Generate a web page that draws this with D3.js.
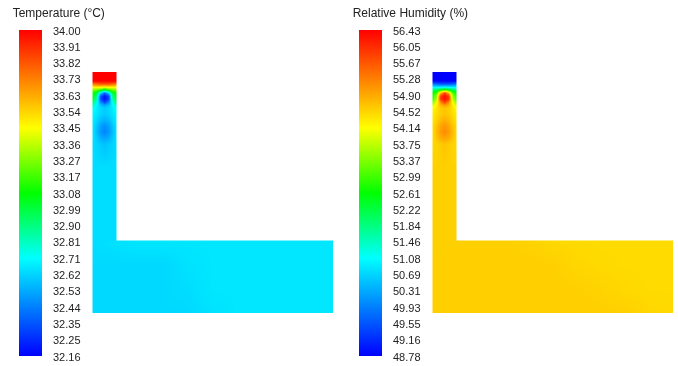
<!DOCTYPE html>
<html><head><meta charset="utf-8">
<script src="https://cdn.jsdelivr.net/npm/d3@7"></script>
<style>
body{margin:0;background:#fff;}
#wrap{position:relative;width:678px;height:366px;overflow:hidden;}
canvas,svg{position:absolute;left:0;top:0;}
text{font-family:"Liberation Sans",Arial,sans-serif;fill:#222;}
</style></head><body><div id="wrap"></div>
<script>
// ---------------- DATA ----------------
const tempTitle = "Temperature (°C)";
const humTitle = "Relative Humidity (%)";
const tempTicks = ["34.00","33.91","33.82","33.73","33.63","33.54","33.45","33.36","33.27","33.17","33.08","32.99","32.90","32.81","32.71","32.62","32.53","32.44","32.35","32.25","32.16"];
const humTicks = ["56.43","56.05","55.67","55.28","54.90","54.52","54.14","53.75","53.37","52.99","52.61","52.22","51.84","51.46","51.08","50.69","50.31","49.93","49.55","49.16","48.78"];
const tempRange = [32.16, 34.00];
const humRange = [48.78, 56.43];

// mesh node coordinates (cm): vertical riser (x 0..1, y 3..10)
const upperX = [0, 0.167, 0.333, 0.5, 0.667, 0.833, 1];
const upperY = [10, 9.875, 9.75, 9.625, 9.5, 9.375, 9.25, 9.125, 9.0, 8.875, 8.75, 8.625, 8.5, 8.25, 8.0, 7.75, 7.5, 7.25, 7.0, 6.0, 3.0];
// horizontal duct (x 0..10, y 0..3)
const lowerX = [0, 1, 2, 3, 4, 5, 6, 7, 8, 9, 10];
const lowerY = [3, 2, 1, 0];

const tempUpper = [
  [34.00,34.00,34.00,34.00,34.00,34.00,34.00],
  [34.00,34.00,34.00,34.00,34.00,34.00,34.00],
  [34.00,34.00,34.00,34.00,34.00,34.00,34.00],
  [34.00,34.00,34.00,34.00,34.00,34.00,34.00],
  [33.74,33.78,33.82,33.82,33.82,33.78,33.74],
  [33.48,33.50,33.50,33.46,33.50,33.50,33.48],
  [33.26,33.23,33.14,33.00,33.14,33.23,33.26],
  [33.12,33.00,32.62,32.38,32.62,33.00,33.12],
  [33.04,32.90,32.34,32.20,32.34,32.90,33.04],
  [33.01,32.84,32.32,32.20,32.32,32.84,33.01],
  [32.93,32.76,32.46,32.30,32.46,32.76,32.93],
  [32.82,32.70,32.58,32.52,32.58,32.70,32.82],
  [32.75,32.68,32.63,32.60,32.63,32.68,32.75],
  [32.69,32.66,32.62,32.60,32.62,32.66,32.69],
  [32.68,32.63,32.57,32.55,32.57,32.63,32.68],
  [32.66,32.59,32.51,32.47,32.51,32.59,32.66],
  [32.66,32.57,32.49,32.45,32.49,32.57,32.66],
  [32.66,32.60,32.54,32.52,32.54,32.60,32.66],
  [32.64,32.62,32.60,32.58,32.60,32.62,32.64],
  [32.64,32.64,32.64,32.64,32.64,32.64,32.64],
  [32.64,32.64,32.64,32.64,32.64,32.64,32.64]
];
const humUpper = [
  [48.78,48.78,48.78,48.78,48.78,48.78,48.78],
  [48.78,48.78,48.78,48.78,48.78,48.78,48.78],
  [48.78,48.78,48.78,48.78,48.78,48.78,48.78],
  [48.78,48.78,48.78,48.78,48.78,48.78,48.78],
  [49.85,49.70,49.55,49.55,49.55,49.70,49.85],
  [50.92,50.85,50.85,50.99,50.85,50.85,50.92],
  [51.99,52.15,52.61,53.14,52.61,52.15,51.99],
  [52.61,53.06,54.82,55.90,54.82,53.06,52.61],
  [52.83,53.52,55.90,56.30,55.90,53.52,52.83],
  [52.99,53.75,55.98,56.30,55.98,53.75,52.99],
  [53.37,54.06,55.20,55.90,55.20,54.06,53.37],
  [53.83,54.29,54.82,55.05,54.82,54.29,53.83],
  [54.14,54.36,54.59,54.67,54.59,54.36,54.14],
  [54.29,54.44,54.59,54.67,54.59,54.44,54.29],
  [54.36,54.52,54.75,54.86,54.75,54.52,54.36],
  [54.44,54.67,54.94,55.09,54.94,54.67,54.44],
  [54.44,54.75,55.02,55.17,55.02,54.75,54.44],
  [54.44,54.67,54.86,54.94,54.86,54.67,54.44],
  [54.48,54.52,54.59,54.67,54.59,54.52,54.48],
  [54.56,54.56,54.56,54.56,54.56,54.56,54.56],
  [54.56,54.56,54.56,54.56,54.56,54.56,54.56]
];
const tempLower = [
  [32.64,32.65,32.66,32.66,32.66,32.66,32.66,32.66,32.66,32.66,32.66],
  [32.63,32.63,32.63,32.63,32.65,32.66,32.66,32.66,32.66,32.66,32.66],
  [32.63,32.63,32.63,32.63,32.64,32.66,32.66,32.66,32.66,32.66,32.66],
  [32.63,32.63,32.63,32.63,32.63,32.65,32.66,32.66,32.66,32.66,32.66]
];
const humLower = [
  [54.56,54.56,54.56,54.56,54.53,54.48,54.46,54.46,54.46,54.46,54.46],
  [54.56,54.57,54.57,54.57,54.57,54.56,54.50,54.47,54.46,54.46,54.46],
  [54.56,54.57,54.57,54.57,54.57,54.57,54.56,54.53,54.48,54.46,54.46],
  [54.56,54.57,54.57,54.57,54.57,54.57,54.57,54.57,54.56,54.50,54.47]
];

// ---------------- LAYOUT ----------------
const W = 678, H = 366;
const panels = [
  {off: 0, title: tempTitle, ticks: tempTicks, range: tempRange, upper: tempUpper, lower: tempLower},
  {off: 340, title: humTitle, ticks: humTicks, range: humRange, upper: humUpper, lower: humLower}
];
const stops = [0, 0.3, 0.5, 0.7, 1];
const stopColors = ["#0000ff", "#00ffff", "#00ff00", "#ffff00", "#ff0000"];

const wrap = d3.select("#wrap");
const canvas = wrap.append("canvas").attr("width", W).attr("height", H).node();
const ctx = canvas.getContext("2d");
const svg = wrap.append("svg").attr("width", W).attr("height", H);
const img = ctx.createImageData(W, H);
for (let i = 0; i < img.data.length; i++) img.data[i] = 255;

function findIdx(arr, v) { // arr ascending or descending
  const n = arr.length;
  const asc = arr[n - 1] > arr[0];
  for (let i = 0; i < n - 1; i++) {
    const b = arr[i + 1];
    if (asc ? (v <= b) : (v >= b)) return i;
  }
  return n - 2;
}
function bilinear(xs, ys, grid, x, y) {
  const i = findIdx(xs, x), j = findIdx(ys, y);
  let tx = (x - xs[i]) / (xs[i + 1] - xs[i]);
  let ty = (y - ys[j]) / (ys[j + 1] - ys[j]);
  tx = Math.max(0, Math.min(1, tx)); ty = Math.max(0, Math.min(1, ty));
  const v00 = grid[j][i], v01 = grid[j][i + 1], v10 = grid[j + 1][i], v11 = grid[j + 1][i + 1];
  return (v00 * (1 - tx) + v01 * tx) * (1 - ty) + (v10 * (1 - tx) + v11 * tx) * ty;
}
function inside(x, y) {
  return (x >= 0 && x <= 1 && y >= 3 && y <= 10) || (x >= 0 && x <= 10 && y >= 0 && y <= 3);
}

panels.forEach(p => {
  const [lo, hi] = p.range;
  const color = d3.scaleLinear()
    .domain(stops.map(s => lo + s * (hi - lo)))
    .range(stopColors)
    .interpolate(d3.interpolateRgb)
    .clamp(true);
  const xS = d3.scaleLinear().domain([0, 10]).range([92.7 + p.off, 333 + p.off]);
  const yS = d3.scaleLinear().domain([0, 10]).range([313, 72]);

  const px0 = Math.floor(xS(0)) - 1, px1 = Math.ceil(xS(10)) + 1;
  const py0 = Math.floor(yS(10)) - 1, py1 = Math.ceil(yS(0)) + 1;
  for (let py = py0; py <= py1; py++) {
    for (let px = px0; px <= px1; px++) {
      let cov = 0;
      for (const dx of [0.25, 0.75]) for (const dy of [0.25, 0.75]) {
        if (inside(xS.invert(px + dx), yS.invert(py + dy))) cov++;
      }
      if (!cov) continue;
      let x = Math.max(0, Math.min(10, xS.invert(px + 0.5)));
      let y = Math.max(0, Math.min(10, yS.invert(py + 0.5)));
      if (x > 1 && y > 3) { if (x - 1 < y - 3) x = 1; else y = 3; }
      const v = (y > 3 && x <= 1)
        ? bilinear(upperX, upperY, p.upper, x, y)
        : bilinear(lowerX, lowerY, p.lower, x, y);
      const c = d3.rgb(color(v));
      const a = cov / 4;
      const k = (py * W + px) * 4;
      img.data[k] = Math.round(c.r * a + 255 * (1 - a));
      img.data[k + 1] = Math.round(c.g * a + 255 * (1 - a));
      img.data[k + 2] = Math.round(c.b * a + 255 * (1 - a));
    }
  }

  // colour bar
  const gid = "grad" + p.off;
  const grad = svg.append("defs").append("linearGradient").attr("id", gid)
    .attr("x1", 0).attr("y1", 1).attr("x2", 0).attr("y2", 0);
  d3.range(0, 1.0001, 0.02).forEach(t => {
    grad.append("stop").attr("offset", t).attr("stop-color", color(lo + t * (hi - lo)));
  });
  const barY = d3.scaleLinear().domain(p.range).range([356, 30]);
  svg.append("rect").attr("x", 19 + p.off).attr("y", barY(hi)).attr("width", 23)
    .attr("height", barY(lo) - barY(hi)).attr("fill", `url(#${gid})`);

  const tickY = d3.scalePoint().domain(p.ticks).range([30.7, 356.7]);
  svg.append("g").selectAll("text").data(p.ticks).join("text")
    .attr("x", 53 + p.off).attr("y", d => tickY(d)).attr("dy", "0.35em")
    .attr("font-size", 11).text(d => d);

  svg.append("text").attr("x", 12.7 + p.off).attr("y", 17).attr("font-size", 12).text(p.title);
});
ctx.putImageData(img, 0, 0);
</script></body></html>
